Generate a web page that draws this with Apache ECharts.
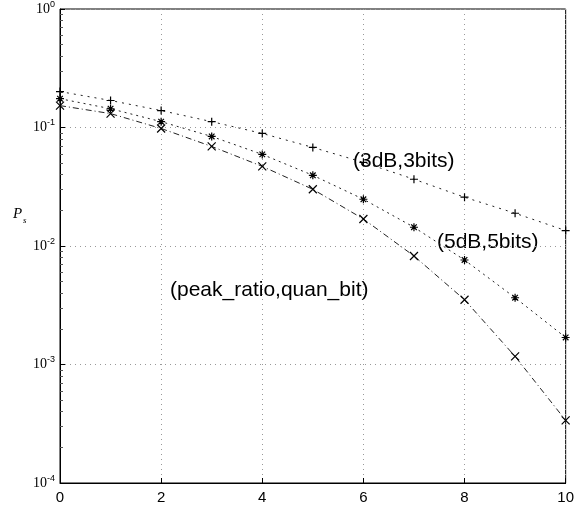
<!DOCTYPE html>
<html>
<head>
<meta charset="utf-8">
<script src="https://cdn.jsdelivr.net/npm/echarts@6/dist/echarts.min.js"></script>
<style>
  html, body { margin: 0; padding: 0; background: #fff; }
  #chart { width: 577px; height: 508px; }
</style>
</head>
<body>
<div id="chart"></div>
<script>
// snr steps on the x axis
const xValues = [0, 1, 2, 3, 4, 5, 6, 7, 8, 9, 10]
// (3dB,3bits) - top curve
const topCurve = [0.201, 0.169, 0.139, 0.112, 0.0891, 0.0679, 0.0508, 0.0366, 0.0258, 0.0189, 0.0135]
// (5dB,5bits) - middle curve
const midCurve = [0.175, 0.144, 0.112, 0.084, 0.0593, 0.0395, 0.0248, 0.0144, 0.00762, 0.00366, 0.00169]
// lowest curve
const lowCurve = [0.153, 0.131, 0.0981, 0.0692, 0.047, 0.0301, 0.0169, 0.00824, 0.00352, 0.00117, 0.000338]
const xTicks = [0, 2, 4, 6, 8, 10]

const plus = 'path://M0,5L10,5M5,0L5,10'
const cross = 'path://M0,0L10,10M10,0L0,10'
const star = 'path://M0,5L10,5M5,0L5,10M1.5,1.5L8.5,8.5M8.5,1.5L1.5,8.5'

function pairs(ys) {
  return xValues.map((x, i) => [x, ys[i]])
}

function curve(data, symbol, dash) {
  return {
    type: 'line',
    data: pairs(data),
    symbol: symbol,
    symbolSize: 8,
    showSymbol: true,
    silent: true,
    lineStyle: { color: '#222', width: 1, type: dash },
    itemStyle: { color: '#000', borderColor: '#000', borderWidth: 1.2 }
  }
}

const font = 'Liberation Sans, Arial, sans-serif'
const chart = echarts.init(document.getElementById('chart'))
chart.setOption({
  backgroundColor: '#fff',
  animation: false,
  grid: {
    left: 60, right: 10, top: 7, bottom: 25,
    show: true, borderColor: '#000', borderWidth: 1
  },
  xAxis: {
    type: 'value',
    min: 0,
    max: 10,
    interval: 2,
    axisLine: { lineStyle: { color: '#000' } },
    axisTick: { inside: true, length: 5, lineStyle: { color: '#000' } },
    axisLabel: {
      color: '#000', fontSize: 15, fontFamily: font, margin: 7,
      customValues: xTicks
    },
    splitLine: { show: true, lineStyle: { color: '#999', type: [1, 4] } }
  },
  yAxis: {
    type: 'log',
    logBase: 10,
    min: 0.0001,
    max: 1,
    axisLine: { lineStyle: { color: '#000' } },
    axisTick: { inside: true, length: 5, lineStyle: { color: '#000' } },
    minorTick: { show: true, splitNumber: 9, length: 3, lineStyle: { color: '#555' } },
    axisLabel: {
      color: '#000', fontFamily: font, margin: 5,
      formatter: v => '{b|10}{s|' + Math.round(Math.log10(v)) + '}',
      rich: {
        b: { fontSize: 14, fontFamily: 'Liberation Serif, serif', color: '#000' },
        s: { fontSize: 9, fontFamily: font, color: '#000', padding: [0, 0, 9, 0] }
      }
    },
    splitLine: { show: true, lineStyle: { color: '#999', type: [1, 4] } }
  },
  graphic: [
    { type: 'text', left: 13, top: 207, style: { text: 'P', font: 'italic 15px Liberation Serif, serif', fill: '#000' } },
    { type: 'text', left: 23, top: 216, style: { text: 's', font: 'italic 9px Liberation Serif, serif', fill: '#000' } },
    { type: 'text', left: 353, top: 151, style: { text: '(3dB,3bits)', font: '21px ' + font, fill: '#000' } },
    { type: 'text', left: 437, top: 232, style: { text: '(5dB,5bits)', font: '21px ' + font, fill: '#000' } },
    { type: 'text', left: 170, top: 280, style: { text: '(peak_ratio,quan_bit)', font: '21px ' + font, fill: '#000' } }
  ],
  series: [
    curve(topCurve, plus, [2, 5]),
    curve(midCurve, star, [2, 4]),
    curve(lowCurve, cross, [6, 3, 1, 3])
  ]
})
</script>
</body>
</html>
